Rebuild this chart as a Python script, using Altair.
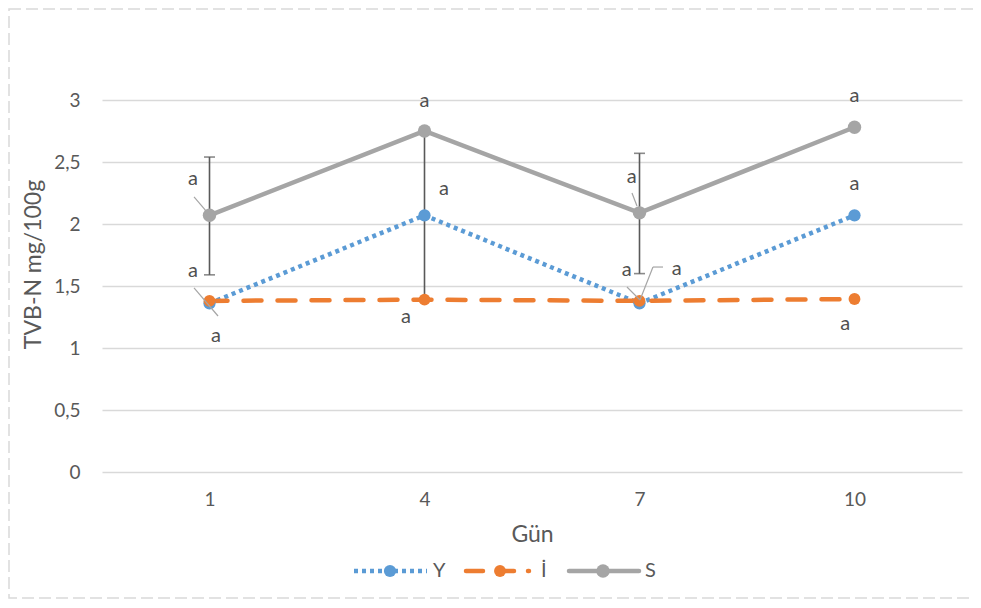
import altair as alt
import pandas as pd

# ---- data ----
days = [1, 4, 7, 10]
series_names = ["Y", "İ", "S"]
y_vals = [1.36, 2.07, 1.36, 2.07]
i_vals = [1.38, 1.39, 1.38, 1.395]
s_vals = [2.07, 2.75, 2.09, 2.78]
s_err_low = [1.59, 1.40, 1.60]
s_err_high = [2.54, 2.75, 2.57]
err_days = [1, 4, 7]

# significance letters ("a") placed in data coordinates
lab_x = [0.77, 0.77, 1.09, 4.0, 4.27, 3.74, 6.89, 6.82, 7.52, 10.0, 10.0, 9.87]
lab_y = [2.36, 1.62, 1.10, 2.99, 2.28, 1.25, 2.38, 1.63, 1.64, 3.03, 2.32, 1.19]
lab_t = ["a"] * 12

# leader lines (data coordinates)
lead_x = [0.784, 0.784, 6.895, 7.328, 7.188, 6.825]
lead_y = [2.218, 1.484, 2.25, 1.653, 1.653, 1.492]
lead_x2 = [0.951, 1.119, 6.965, 7.188, 7.007, 7.007]
lead_y2 = [2.105, 1.258, 2.145, 1.653, 1.387, 1.387]

colors = {"Y": "#5B9BD5", "İ": "#ED7D31", "S": "#A5A5A5"}
FONT = "Lato"
TXT = "#595959"

W, H = 860, 372

df = pd.DataFrame({
    "day": days * 3,
    "value": y_vals + i_vals + s_vals,
    "series": ["Y"] * 4 + ["İ"] * 4 + ["S"] * 4,
})
err = pd.DataFrame({"day": err_days, "lo": s_err_low, "hi": s_err_high})
labels = pd.DataFrame({"x": lab_x, "y": lab_y, "t": lab_t})
leads = pd.DataFrame({"x": lead_x, "y": lead_y, "x2": lead_x2, "y2": lead_y2})

xscale = alt.Scale(domain=[-0.5, 11.5], nice=False, zero=False)
yscale = alt.Scale(domain=[0, 3], nice=False)

xaxis = alt.Axis(values=days, title="Gün", grid=False, domain=False, ticks=False,
                 labelPadding=18, titlePadding=14, labelFontSize=19, titleFontSize=23,
                 labelColor=TXT, titleColor=TXT, labelFont=FONT, titleFont=FONT,
                 titleFontWeight="normal")
yaxis = alt.Axis(values=[0, 0.5, 1, 1.5, 2, 2.5, 3], format="~g",
                 labelExpr="replace(datum.label, '.', ',')",
                 title="TVB-N mg/100g", grid=True, gridColor="#D9D9D9", gridWidth=1.3,
                 domain=False, ticks=False, labelPadding=22, labelFontSize=19,
                 titleFontSize=23, labelColor=TXT, titleColor=TXT, labelFont=FONT,
                 titleFont=FONT, titleFontWeight="normal", titleX=-69, titleY=164,
                 titleBaseline="middle", titleAngle=270, titleAlign="center")


def XQ(field):
    return alt.X(field, type="quantitative", scale=xscale, axis=xaxis)


def YQ(field):
    return alt.Y(field, type="quantitative", scale=yscale, axis=yaxis)


base = alt.Chart(df)

# error bars
ebar = alt.Chart(err).mark_rule(color="#595959", strokeWidth=1.6).encode(
    x=XQ("day"), y=YQ("lo"), y2="hi:Q")
ecap_hi = alt.Chart(err).mark_tick(color="#595959", thickness=1.6, size=11, orient="horizontal").encode(
    x=XQ("day"), y=YQ("hi"))
ecap_lo = alt.Chart(err).mark_tick(color="#595959", thickness=1.6, size=11, orient="horizontal").encode(
    x=XQ("day"), y=YQ("lo"))

line_y = base.transform_filter("datum.series == 'Y'").mark_line(
    color=colors["Y"], strokeWidth=4.5, strokeDash=[4, 4], strokeCap="butt").encode(x=XQ("day"), y=YQ("value"))
line_i = base.transform_filter("datum.series == 'İ'").mark_line(
    color=colors["İ"], strokeWidth=4.5, strokeDash=[18, 16], strokeCap="round").encode(x=XQ("day"), y=YQ("value"))
line_s = base.transform_filter("datum.series == 'S'").mark_line(
    color=colors["S"], strokeWidth=4.5).encode(x=XQ("day"), y=YQ("value"))

pt_y = base.transform_filter("datum.series == 'Y'").mark_point(
    filled=True, color=colors["Y"], size=150, opacity=1, shape="circle").encode(x=XQ("day"), y=YQ("value"))
pt_i = base.transform_filter("datum.series == 'İ'").mark_point(
    filled=True, color=colors["İ"], size=140, opacity=1, shape="circle").encode(x=XQ("day"), y=YQ("value"))
pt_s = base.transform_filter("datum.series == 'S'").mark_point(
    filled=True, color=colors["S"], size=180, opacity=1, shape="circle").encode(x=XQ("day"), y=YQ("value"))

leader = alt.Chart(leads).mark_rule(color="#A5A5A5", strokeWidth=1.2).encode(
    x=XQ("x"), y=YQ("y"), x2="x2:Q", y2="y2:Q")

letters = alt.Chart(labels).mark_text(font=FONT, fontSize=20, color="#505050",
                                      align="center", baseline="middle").encode(
    x=XQ("x"), y=YQ("y"), text="t:N")

# manual legend (pixel positions relative to plot origin)
leg_layers = []
leg_y = 471
spec = {
    "Y": dict(x1=252, x2=325, mx=288, tx=331, dash=[4, 4], cap="butt", size=150),
    "İ": dict(x1=364, x2=427, mx=398, tx=439, dash=[17, 14], cap="round", size=140),
    "S": dict(x1=467, x2=537, mx=501, tx=543, dash=None, cap="round", size=180),
}
for name in series_names:
    s = spec[name]
    one = pd.DataFrame({"series": [name]})
    rule_kwargs = dict(color=colors[name], strokeWidth=4.5, strokeCap=s["cap"])
    if s["dash"]:
        rule_kwargs["strokeDash"] = s["dash"]
    leg_layers.append(alt.Chart(one).mark_rule(**rule_kwargs).encode(
        x=alt.value(s["x1"]), x2=alt.value(s["x2"]), y=alt.value(leg_y)))
    leg_layers.append(alt.Chart(one).mark_point(filled=True, opacity=1, color=colors[name],
                                                size=s["size"], shape="circle").encode(
        x=alt.value(s["mx"]), y=alt.value(leg_y)))
    leg_layers.append(alt.Chart(one).mark_text(font=FONT, fontSize=20, color=TXT,
                                               align="left", baseline="middle").encode(
        x=alt.value(s["tx"]), y=alt.value(leg_y), text="series:N"))

# dashed outer border
border = alt.Chart(pd.DataFrame({"b": [0]})).mark_rect(
    fillOpacity=0, stroke="#D9D9D9", strokeWidth=1.5, strokeDash=[12, 5]).encode(
    x=alt.value(-93), x2=alt.value(900), y=alt.value(-91), y2=alt.value(498))

chart = alt.layer(
    ebar, ecap_hi, ecap_lo, line_y, line_i, line_s, pt_y, pt_i, pt_s,
    leader, letters, *leg_layers, border
).properties(
    width=W, height=H,
    background="white",
    autosize=alt.AutoSizeParams(type="none"),
    padding={"left": 94, "top": 92, "right": 11, "bottom": 128},
).configure_view(stroke="transparent", strokeWidth=0)

chart.save("out.html", embed_options={"renderer": "svg", "actions": False})
